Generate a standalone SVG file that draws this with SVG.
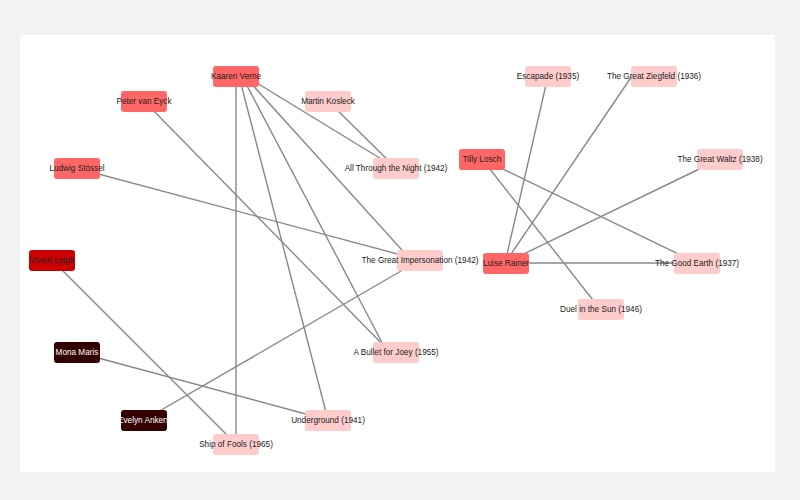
<svg xmlns="http://www.w3.org/2000/svg" width="800" height="500" viewBox="0 0 800 500">
<style>
.e{stroke:#888;stroke-width:1.4;fill:none}
rect{rx:3}
.r{fill:#f66}.p{fill:#fcc}.v{fill:#c00}.d{fill:#300}
text{font-family:"Liberation Sans",Arial,sans-serif;font-size:8.2px;text-anchor:middle;fill:#222}
.w{fill:#fff}
</style>
<rect x="0" y="0" width="800" height="500" fill="#f2f2f2" style="rx:0"/>
<rect x="20" y="35" width="755" height="437" fill="#fff" style="rx:0"/>
<g id="edges">
<line class="e" x1="236" y1="76" x2="236" y2="444"/>
<line class="e" x1="240" y1="80" x2="328" y2="420"/>
<line class="e" x1="244" y1="80" x2="387" y2="352"/>
<line class="e" x1="248" y1="80" x2="411" y2="260"/>
<line class="e" x1="252" y1="80" x2="396" y2="168"/>
<line class="e" x1="328" y1="101" x2="396" y2="168"/>
<line class="e" x1="144" y1="101" x2="390" y2="352"/>
<line class="e" x1="76" y1="168" x2="420" y2="260"/>
<line class="e" x1="52" y1="260" x2="236" y2="444"/>
<line class="e" x1="76" y1="352" x2="328" y2="420"/>
<line class="e" x1="144" y1="420" x2="420" y2="260"/>
<line class="e" x1="505" y1="263" x2="548" y2="76"/>
<line class="e" x1="505" y1="263" x2="632" y2="76"/>
<line class="e" x1="505" y1="263" x2="720" y2="159"/>
<line class="e" x1="505" y1="263" x2="697" y2="263"/>
<line class="e" x1="482" y1="159" x2="697" y2="263"/>
<line class="e" x1="482" y1="159" x2="600" y2="309"/>
</g>
<g id="n1"><rect class="r" x="213" y="66" width="46" height="21"/><text x="236" y="79">Kaaren Verne</text></g>
<g id="n2"><rect class="r" x="121" y="91" width="46" height="21"/><text x="144" y="104">Peter van Eyck</text></g>
<g id="n3"><rect class="p" x="305" y="91" width="46" height="21"/><text x="328" y="104">Martin Kosleck</text></g>
<g id="n4"><rect class="r" x="54" y="158" width="46" height="21"/><text x="77" y="171">Ludwig Stössel</text></g>
<g id="n5"><rect class="p" x="373" y="158" width="46" height="21"/><text x="396" y="171">All Through the Night (1942)</text></g>
<g id="n6"><rect class="v" x="29" y="250" width="46" height="21"/><text x="52" y="263">Vivien Leigh</text></g>
<g id="n7"><rect class="p" x="397" y="250" width="46" height="21"/><text x="420" y="263">The Great Impersonation (1942)</text></g>
<g id="n8"><rect class="d" x="54" y="342" width="46" height="21"/><text class="w" x="77" y="355">Mona Maris</text></g>
<g id="n9"><rect class="p" x="373" y="342" width="46" height="21"/><text x="396" y="355">A Bullet for Joey (1955)</text></g>
<g id="n10"><rect class="d" x="121" y="410" width="46" height="21"/><text class="w" x="144" y="423">Evelyn Ankers</text></g>
<g id="n11"><rect class="p" x="305" y="410" width="46" height="21"/><text x="328" y="423">Underground (1941)</text></g>
<g id="n12"><rect class="p" x="213" y="434" width="46" height="21"/><text x="236" y="447">Ship of Fools (1965)</text></g>
<g id="n13"><rect class="p" x="525" y="66" width="46" height="21"/><text x="548" y="79">Escapade (1935)</text></g>
<g id="n14"><rect class="p" x="631" y="66" width="46" height="21"/><text x="654" y="79">The Great Ziegfeld (1936)</text></g>
<g id="n15"><rect class="r" x="459" y="149" width="46" height="21"/><text x="482" y="162">Tilly Losch</text></g>
<g id="n16"><rect class="p" x="697" y="149" width="46" height="21"/><text x="720" y="162">The Great Waltz (1938)</text></g>
<g id="n17"><rect class="r" x="483" y="253" width="46" height="21"/><text x="506" y="266">Luise Rainer</text></g>
<g id="n18"><rect class="p" x="674" y="253" width="46" height="21"/><text x="697" y="266">The Good Earth (1937)</text></g>
<g id="n19"><rect class="p" x="578" y="299" width="46" height="21"/><text x="601" y="312">Duel in the Sun (1946)</text></g>
</svg>
